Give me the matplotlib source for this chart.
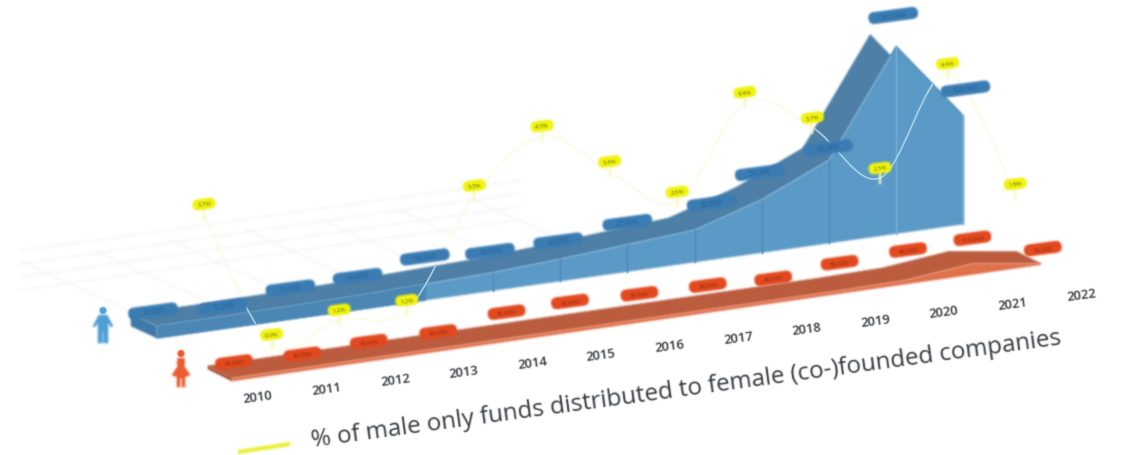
import numpy as np
import matplotlib
matplotlib.use("Agg")
import matplotlib.pyplot as plt
from matplotlib.path import Path
from matplotlib.patches import PathPatch, Polygon, FancyBboxPatch, Circle
from matplotlib.transforms import Affine2D

plt.rcParams['font.family'] = ['Open Sans', 'DejaVu Sans']

# ---- data (label digits are estimates) ----
years = [2010, 2011, 2012, 2013, 2014, 2015, 2016, 2017, 2018, 2019, 2020, 2021, 2022]
male_funds = [120, 120, 130, 140, 160, 180, 220, 270, 320, 530, 830, 1870, 1080]
female_funds = [3, 3, 3, 3, 3, 3, 3, 3, 3, 3, 4, 11, 1]
pct_female = [3.7, 0.9, 1.2, 1.2, 3.3, 4.3, 3.4, 2.6, 4.4, 3.7, 2.5, 4.4, 1.8]
legend_text = "% of male only funds distributed to female (co-)founded companies"

# ---- layout (oblique projection: year step, height scale, depth) ----
W, H = 1125, 456
BLUE = dict(x0=157, y0=339, dx=67.2, dy=-9.5, k=0.1, depth=(-26, -12))
RED = dict(x0=232, y0=382, dx=67.4, dy=-9.7, k=1.0, depth=(-24, -12))
YEL = dict(x0=204, y0=400, dx=67.6, dy=-9.6, k=50.0)
TICK = dict(x0=258, y0=398, dx=68.6, dy=-8.5)
ANGLE = 7.6

male_dy = [-15, -10, -18, -19, -27, -21, -18, -22, -27, -27, -12, -31, -27]
male_dx = [-4, -1, -1, -1, -1, -3, -2, 0, 17, -2, -1, -3, 2]
red_dy = [-16, -14, -17, -17, -27, -28, -26, -25, -22, -28, -30, -25, -15]
red_dx = [2, 3, 2, 4, 5, 1, 3, 4, 2, 1, 2, -1, 2]

fig = plt.figure(figsize=(W / 100, H / 100), dpi=100)
ax = fig.add_axes([0, 0, 1, 1])
ax.set_xlim(0, W)
ax.set_ylim(H, 0)
ax.axis('off')


def blur_filter(sigma):
    r = max(1, int(3 * sigma))
    kernel = np.exp(-0.5 * (np.arange(-r, r + 1) / sigma) ** 2)
    kernel /= kernel.sum()

    def conv(a, axis):
        return np.apply_along_axis(lambda m: np.convolve(m, kernel, mode='same'), axis, a)

    def f(img, dpi):
        pad = r + 1
        out = np.pad(img, ((pad, pad), (pad, pad), (0, 0))).astype(float)
        alpha = out[..., 3:4]
        pm = out[..., :3] * alpha
        merged = np.concatenate([pm, alpha], axis=2)
        merged = conv(conv(merged, 0), 1)
        a = merged[..., 3:4]
        rgb = np.where(a > 1e-4, merged[..., :3] / np.maximum(a, 1e-4), 0)
        return np.clip(np.concatenate([rgb, a], axis=2), 0, 1), -pad, -pad
    return f


SOFT = blur_filter(1.0)
FINE = blur_filter(0.6)


def soft(artist, flt=SOFT):
    artist.set_agg_filter(flt)
    return artist


def base(p, i):
    return p['x0'] + p['dx'] * i, p['y0'] + p['dy'] * i


def front(p, i, v):
    x, y = base(p, i)
    return x, y - v * p['k']


def poly(pts, color, z, **kw):
    return soft(ax.add_patch(Polygon(pts, closed=True, fc=color, ec=color, lw=0.4, zorder=z, **kw)))


def pill(cx, cy, w, h, color, z):
    t = Affine2D().rotate_deg_around(cx, cy, -ANGLE) + ax.transData
    return soft(ax.add_patch(FancyBboxPatch((cx - w / 2, cy - h / 2), w, h,
                                            boxstyle=f"round,pad=0,rounding_size={h / 2}",
                                            fc=color, ec='none', transform=t, zorder=z)))


def smooth_path(xs, ys):
    pts = np.column_stack([xs, ys])
    verts = [pts[0]]
    codes = [Path.MOVETO]
    for j in range(len(pts) - 1):
        prev = pts[max(j - 1, 0)]
        nxt = pts[min(j + 2, len(pts) - 1)]
        verts += [pts[j] + (pts[j + 1] - prev) / 6, pts[j + 1] - (nxt - pts[j]) / 6, pts[j + 1]]
        codes += [Path.CURVE4] * 3
    return Path(verts, codes)


def slab(p, values, c_front, c_top, c_side, z):
    n = len(values)
    fr = [front(p, i, values[i]) for i in range(n)]
    bs = [base(p, i) for i in range(n)]
    dx, dy = p['depth']
    bk = [(x + dx, y + dy) for x, y in fr]
    top = poly(bk + fr[::-1], c_top, z)
    poly([bs[0], fr[0], bk[0], (bs[0][0] + dx, bs[0][1] + dy)], c_side, z + 0.1)
    return top, poly(fr + bs[::-1], c_front, z + 0.2)


# faint floor grid
for k in range(4):
    xa, ya = 20, 252 + 13 * k
    soft(ax.plot([xa, xa + 500], [ya, ya - 500 * 0.141], color='#f5f5f5', lw=1.0, zorder=1)[0])
for k in range(7):
    xa, ya = 20 + 75 * k, 262 - 10.5 * k
    soft(ax.plot([xa, xa + 110], [ya, ya + 50], color='#f5f5f5', lw=1.0, zorder=1)[0])

# blue and red solids
blue_top, blue_front = slab(BLUE, male_funds, '#5a9ac6', '#4d7fa6', '#3f78a5', 3)
slab(RED, female_funds, '#e0714a', '#bb5c3e', '#a9482c', 3)

# darker front face at the low, left end of the blue solid
left_fr = [front(BLUE, i, male_funds[i]) for i in range(5)]
left_bs = [base(BLUE, i) for i in range(5)]
poly(left_fr + left_bs[::-1], '#4c87b4', 3.3)

# dividers on the blue front face
for i in range(5, len(years)):
    xt, yt = front(BLUE, i, male_funds[i])
    xb, yb = base(BLUE, i)
    soft(ax.plot([xt, xb], [yt, yb], color='#7db0d2' if i >= 11 else '#4c8aba', lw=1.0, zorder=3.5)[0], FINE)

# percentage line
yx = [base(YEL, i)[0] for i in range(len(years))]
yy = [base(YEL, i)[1] - pct_female[i] * YEL['k'] for i in range(len(years))]
curve_pts = smooth_path(yx, np.array(yy))
soft(ax.add_patch(PathPatch(curve_pts, fc='none', ec='#fbfbe0', lw=1.0, zorder=2)), FINE)
for solid in (blue_top, blue_front):
    over = ax.add_patch(PathPatch(curve_pts, fc='none', ec='#a9d0e6', lw=1.2, zorder=4))
    over.set_clip_path(solid.get_path(), solid.get_transform())

# value call-outs
for i, v in enumerate(male_funds):
    x, y = front(BLUE, i, v)
    cx, cy = x + male_dx[i], y + male_dy[i]
    pill(cx, cy, 50, 12, '#3a7cb3', 5)
    soft(ax.text(cx, cy, f"{v * 100:,}", fontsize=5, color='#1f5f9c', ha='center', va='center',
                 rotation=ANGLE, rotation_mode='anchor', zorder=6), FINE)

for i, v in enumerate(female_funds):
    x, y = front(RED, i, v)
    cx, cy = x + red_dx[i], y + red_dy[i]
    pill(cx, cy, 38, 12, '#e2491e', 5)
    soft(ax.text(cx, cy, f"{v * 10000:,}", fontsize=4.5, color='#8e2a10', ha='center', va='center',
                 rotation=ANGLE, rotation_mode='anchor', zorder=6), FINE)

for i, p_ in enumerate(pct_female):
    cx, cy = yx[i], yy[i] - 10
    soft(ax.plot([cx, cx], [cy + 5, cy + 15], color='#f8f8c0', lw=1.6, zorder=6)[0])
    pill(cx, cy, 23, 11, '#f0f30c', 7)
    soft(ax.text(cx, cy, f"{p_:.1f}%", fontsize=4.5, color='#6f7010', ha='center', va='center',
                 rotation=ANGLE, rotation_mode='anchor', zorder=8), FINE)

# years
for i, yr in enumerate(years):
    x, y = base(TICK, i)
    soft(ax.text(x, y, str(yr), fontsize=9.4, color='#2c3034', ha='center', va='center',
                 rotation=ANGLE, rotation_mode='anchor', fontweight='semibold', zorder=6), FINE)

# legend
soft(ax.plot([238, 290], [453, 445], color='#e9f233', lw=3, solid_capstyle='butt', zorder=6)[0])
soft(ax.text(686, 390, legend_text, fontsize=17.35, color='#34393e', ha='center', va='center',
             rotation=7.8, rotation_mode='anchor', zorder=6), FINE)


# people icons
def person(cx, top, color, female=False):
    soft(ax.add_patch(Circle((cx, top + 3.5), 3.6, fc=color, ec='none', zorder=6)), FINE)
    if female:
        body = [(cx - 3, top + 8), (cx + 3, top + 8), (cx + 4, top + 13), (cx + 3, top + 16), (cx + 9, top + 25),
                (cx + 4, top + 27), (cx + 4, top + 37), (cx + 1, top + 37), (cx + 1, top + 28), (cx - 1, top + 28),
                (cx - 1, top + 37), (cx - 4, top + 37), (cx - 4, top + 27), (cx - 9, top + 25), (cx - 3, top + 16),
                (cx - 4, top + 13)]
    else:
        body = [(cx - 4, top + 8), (cx + 4, top + 8), (cx + 10, top + 19), (cx + 8, top + 20), (cx + 5, top + 15),
                (cx + 5, top + 36), (cx + 0.6, top + 36), (cx + 0.6, top + 24), (cx - 0.6, top + 24),
                (cx - 0.6, top + 36), (cx - 5, top + 36), (cx - 5, top + 15), (cx - 8, top + 20), (cx - 10, top + 19)]
    poly(body, color, 6)


person(103, 308, '#4f9fd6')
person(181, 351, '#ea5a2e', female=True)

fig.savefig('out.png', dpi=100, facecolor='white')
